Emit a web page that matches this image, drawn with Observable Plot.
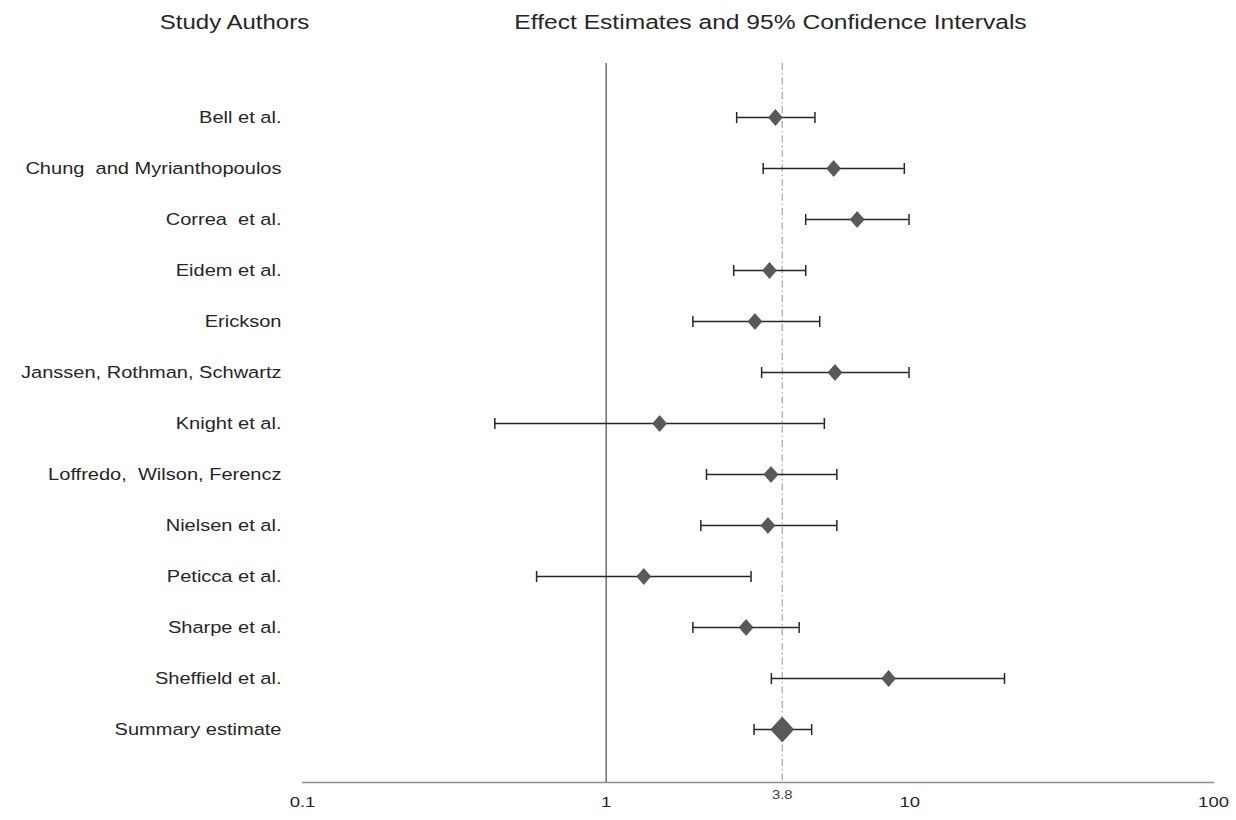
<!DOCTYPE html>
<html><head><meta charset="utf-8">
<script src="https://cdn.jsdelivr.net/npm/d3@7"></script>
<script src="https://cdn.jsdelivr.net/npm/@observablehq/plot@0.6"></script>
<style>
body{margin:0;background:#fff}
#chart svg text{white-space:pre}
</style>
</head><body><div id="chart"></div>
<script>
const studies = ["Bell et al.", "Chung  and Myrianthopoulos", "Correa  et al.", "Eidem et al.", "Erickson", "Janssen, Rothman, Schwartz", "Knight et al.", "Loffredo,  Wilson, Ferencz", "Nielsen et al.", "Peticca et al.", "Sharpe et al.", "Sheffield et al.", "Summary estimate"];
const estimates = [3.61, 5.61, 6.71, 3.45, 3.09, 5.67, 1.50, 3.49, 3.41, 1.33, 2.89, 8.51, 3.80];
const lower     = [2.69, 3.29, 4.54, 2.63, 1.93, 3.25, 0.43, 2.14, 2.05, 0.59, 1.93, 3.50, 3.07];
const upper     = [4.87, 9.59, 9.94, 4.54, 5.05, 9.94, 5.23, 5.75, 5.75, 3.00, 4.32, 20.5, 4.75];
const summaryLabel = "Summary estimate";
const xTicks = [0.1, 1, 10, 100];
const nullValue = 1;
const pooledValue = 3.8;
const pooledLabel = "3.8";
const leftTitle = "Study Authors";
const rightTitle = "Effect Estimates and 95% Confidence Intervals";

const rows = studies.map((s, i) => ({study: s, est: estimates[i], lo: lower[i], hi: upper[i]}));
const studyRows = rows.filter(d => d.study !== summaryLabel);
const summaryRows = rows.filter(d => d.study === summaryLabel);

const cap = {draw(ctx) { ctx.moveTo(0, -5.5); ctx.lineTo(0, 5.5); }};
const diamond = (w, h) => ({draw(ctx) { ctx.moveTo(0, -h); ctx.lineTo(w, 0); ctx.lineTo(0, h); ctx.lineTo(-w, 0); ctx.closePath(); }});

const W = 1236, H = 820, mL = 302, mR = 23, mT = 63, mB = 38;
const frameCx = mL + (W - mL - mR) / 2;

const chart = Plot.plot({
  width: W, height: H,
  marginLeft: mL, marginRight: mR, marginTop: mT, marginBottom: mB,
  style: {fontFamily: "'Liberation Sans', Arial, sans-serif", color: "#262626", background: "#fff"},
  x: {type: "log", domain: [0.1, 100], axis: null},
  y: {type: "point", domain: studies, padding: 1, axis: null},
  marks: [
    Plot.frame({anchor: "bottom", stroke: "#8c8c8c", strokeWidth: 1.3}),
    Plot.ruleX([nullValue], {stroke: "#595959", strokeWidth: 1.3}),
    Plot.ruleX([pooledValue], {stroke: "#a6a6a6", strokeWidth: 1.2, strokeDasharray: "7,3,1.5,3"}),
    Plot.ruleY(rows, {y: "study", x1: "lo", x2: "hi", stroke: "#262626", strokeWidth: 1.5}),
    Plot.dot(rows, {x: "lo", y: "study", symbol: cap, stroke: "#262626", strokeWidth: 1.5}),
    Plot.dot(rows, {x: "hi", y: "study", symbol: cap, stroke: "#262626", strokeWidth: 1.5}),
    Plot.dot(studyRows, {x: "est", y: "study", symbol: diamond(7, 8), fill: "#595959", stroke: "#404040", strokeWidth: 0.6}),
    Plot.dot(summaryRows, {x: "est", y: "study", symbol: diamond(11.5, 12.5), fill: "#595959", stroke: "#404040", strokeWidth: 0.6}),
    Plot.axisX(xTicks, {tickSize: 0, tickPadding: 14, fontSize: 15, tickFormat: d => String(d), fill: "#262626", label: null}),
    Plot.axisX([pooledValue], {tickSize: 0, tickPadding: 8, fontSize: 12, tickFormat: () => pooledLabel, fill: "#404040", label: null}),
    Plot.axisY({tickSize: 0, tickPadding: 21, fontSize: 16.3, fill: "#262626", label: null}),
    Plot.text([leftTitle], {frameAnchor: "top", dx: 234 - frameCx, dy: 28 - mT, lineAnchor: "bottom", fontSize: 19.5, fill: "#262626"}),
    Plot.text([rightTitle], {frameAnchor: "top", dx: 770 - frameCx, dy: 28 - mT, lineAnchor: "bottom", fontSize: 20, fill: "#262626"})
  ]
});
document.getElementById("chart").append(chart);
// Horizontal stretch to mimic the reference's wide lettering
chart.querySelectorAll("text").forEach(t => {
  const len = t.getComputedTextLength();
  if (len > 0) {
    t.setAttribute("textLength", (len * 1.23).toFixed(1));
    t.setAttribute("lengthAdjust", "spacingAndGlyphs");
  }
});
</script>
</body></html>
